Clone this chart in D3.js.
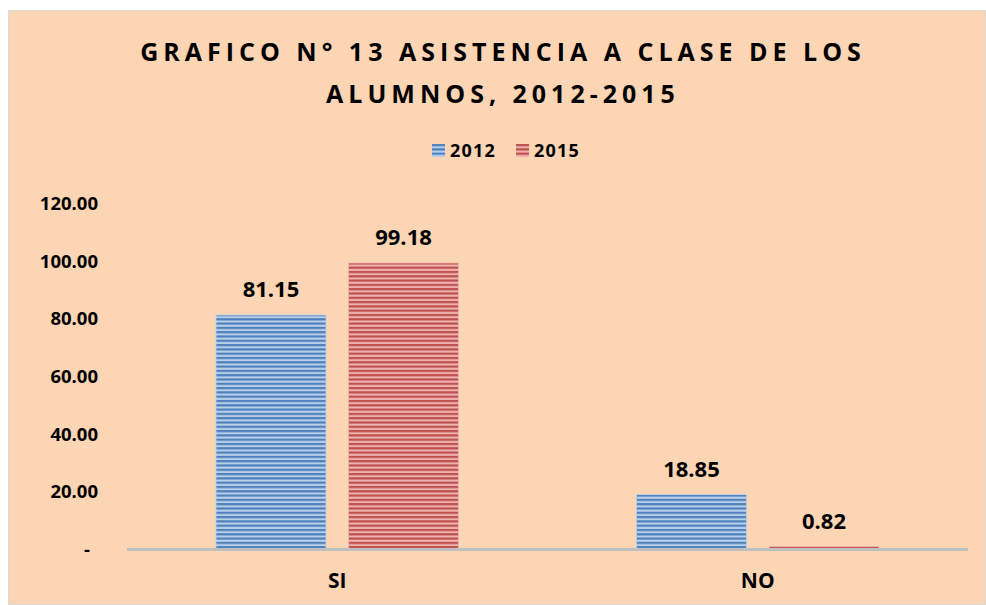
<!DOCTYPE html>
<html>
<head>
<meta charset="utf-8">
<script src="https://cdn.jsdelivr.net/npm/d3@7"></script>
<style>
  body { margin: 0; background: #fff; }
  text { font-family: "Open Sans", "Liberation Sans", sans-serif; font-weight: bold; fill: #000; }
</style>
</head>
<body>
<svg id="chart" width="986" height="605"></svg>
<script>
// chart data
var categories = ['SI', 'NO'];
var seriesNames = ['2012', '2015'];
var values2012 = [81.15, 18.85];
var values2015 = [99.18, 0.82];
var yTicks = [0, 20, 40, 60, 80, 100, 120];
var titleLines = ['GRAFICO N° 13 ASISTENCIA A CLASE DE LOS', 'ALUMNOS, 2012-2015'];

var colors = {
    '2012': { dark: '#4f81bd', light: '#b9cfea' },
    '2015': { dark: '#c0504d', light: '#edb3b1' }
};

var svg = d3.select('#chart');

// background + border
svg.append('rect')
    .attr('x', 8.5).attr('y', 10.5)
    .attr('width', 977).attr('height', 594)
    .attr('fill', '#fcd5b5')
    .attr('stroke', '#d9d9d9');

// stripe patterns for the bars
var defs = svg.append('defs');
seriesNames.forEach(function (s) {
    var p = defs.append('pattern')
        .attr('id', 'stripe' + s)
        .attr('patternUnits', 'userSpaceOnUse')
        .attr('width', 8).attr('height', 4.3);
    p.append('rect').attr('width', 8).attr('height', 4.3).attr('fill', colors[s].light);
    p.append('rect').attr('width', 8).attr('height', 2.2).attr('fill', colors[s].dark);
});

// scales
var x0 = d3.scaleBand().domain(categories).range([127, 968]).paddingInner(0).paddingOuter(0);
var x1 = d3.scaleBand().domain(seriesNames).range([89, x0.bandwidth() - 89]).paddingInner(0.17);
var y = d3.scaleLinear().domain([0, 120]).range([549, 203]);

// title
svg.append('g').selectAll('text')
    .data(titleLines)
    .enter().append('text')
    .attr('x', 503)
    .attr('y', function (d, i) { return 61 + i * 42; })
    .attr('text-anchor', 'middle')
    .style('font-size', '25px')
    .style('letter-spacing', '5px')
    .text(function (d) { return d; });

// legend
var legend = svg.append('g').attr('transform', 'translate(432,144)');
var li = legend.selectAll('g').data(seriesNames).enter().append('g')
    .attr('transform', function (d, i) { return 'translate(' + (i * 84) + ',0)'; });
li.append('rect')
    .attr('width', 13).attr('height', 13)
    .attr('fill', function (d) { return 'url(#stripe' + d + ')'; });
li.append('text')
    .attr('x', 18).attr('y', 13)
    .style('font-size', '18px')
    .style('letter-spacing', '1.2px')
    .text(function (d) { return d; });

// y axis labels
var yAxis = d3.axisLeft(y)
    .tickValues(yTicks)
    .tickSize(0)
    .tickPadding(0)
    .tickFormat(function (d) { return d === 0 ? '-' : d3.format('.2f')(d); });
var gy = svg.append('g').attr('transform', 'translate(98,0)').call(yAxis);
gy.select('.domain').remove();
gy.selectAll('text')
    .style('font-size', '18.5px')
    .style('font-family', '"Open Sans", sans-serif')
    .attr('dy', '0.35em')
    .attr('x', function (d) { return d === 0 ? -8 : 0; });

// bars
var rows = categories.map(function (c, i) {
    return { cat: c, vals: [
        { s: '2012', v: values2012[i] },
        { s: '2015', v: values2015[i] }
    ] };
});

var groups = svg.append('g').selectAll('g')
    .data(rows)
    .enter().append('g')
    .attr('transform', function (d) { return 'translate(' + x0(d.cat) + ',0)'; });

groups.selectAll('rect')
    .data(function (d) { return d.vals; })
    .enter().append('rect')
    .attr('x', function (d) { return x1(d.s); })
    .attr('y', function (d) { return y(d.v); })
    .attr('width', x1.bandwidth())
    .attr('height', function (d) { return y(0) - y(d.v); })
    .attr('fill', function (d) { return 'url(#stripe' + d.s + ')'; })
    .attr('stroke', function (d) { return colors[d.s].light; })
    .attr('stroke-width', 0.8);

groups.selectAll('text.val')
    .data(function (d) { return d.vals; })
    .enter().append('text')
    .attr('class', 'val')
    .attr('x', function (d) { return x1(d.s) + x1.bandwidth() / 2; })
    .attr('y', function (d) { return y(d.v) - 18; })
    .attr('text-anchor', 'middle')
    .style('font-size', '22px')
    .text(function (d) { return d3.format('.2f')(d.v); });

// x axis line
svg.append('line')
    .attr('x1', 127).attr('x2', 968)
    .attr('y1', y(0) + 0.5).attr('y2', y(0) + 0.5)
    .attr('stroke', '#bfbfbf')
    .attr('stroke-width', 3);

// category labels
var xAxis = d3.axisBottom(x0).tickSize(0).tickPadding(0);
var gx = svg.append('g').attr('transform', 'translate(0,' + y(0) + ')').call(xAxis);
gx.select('.domain').remove();
gx.selectAll('text')
    .attr('y', 39)
    .attr('dy', 0)
    .style('font-size', '21px')
    .style('font-family', '"Open Sans", sans-serif');
</script>
</body>
</html>
